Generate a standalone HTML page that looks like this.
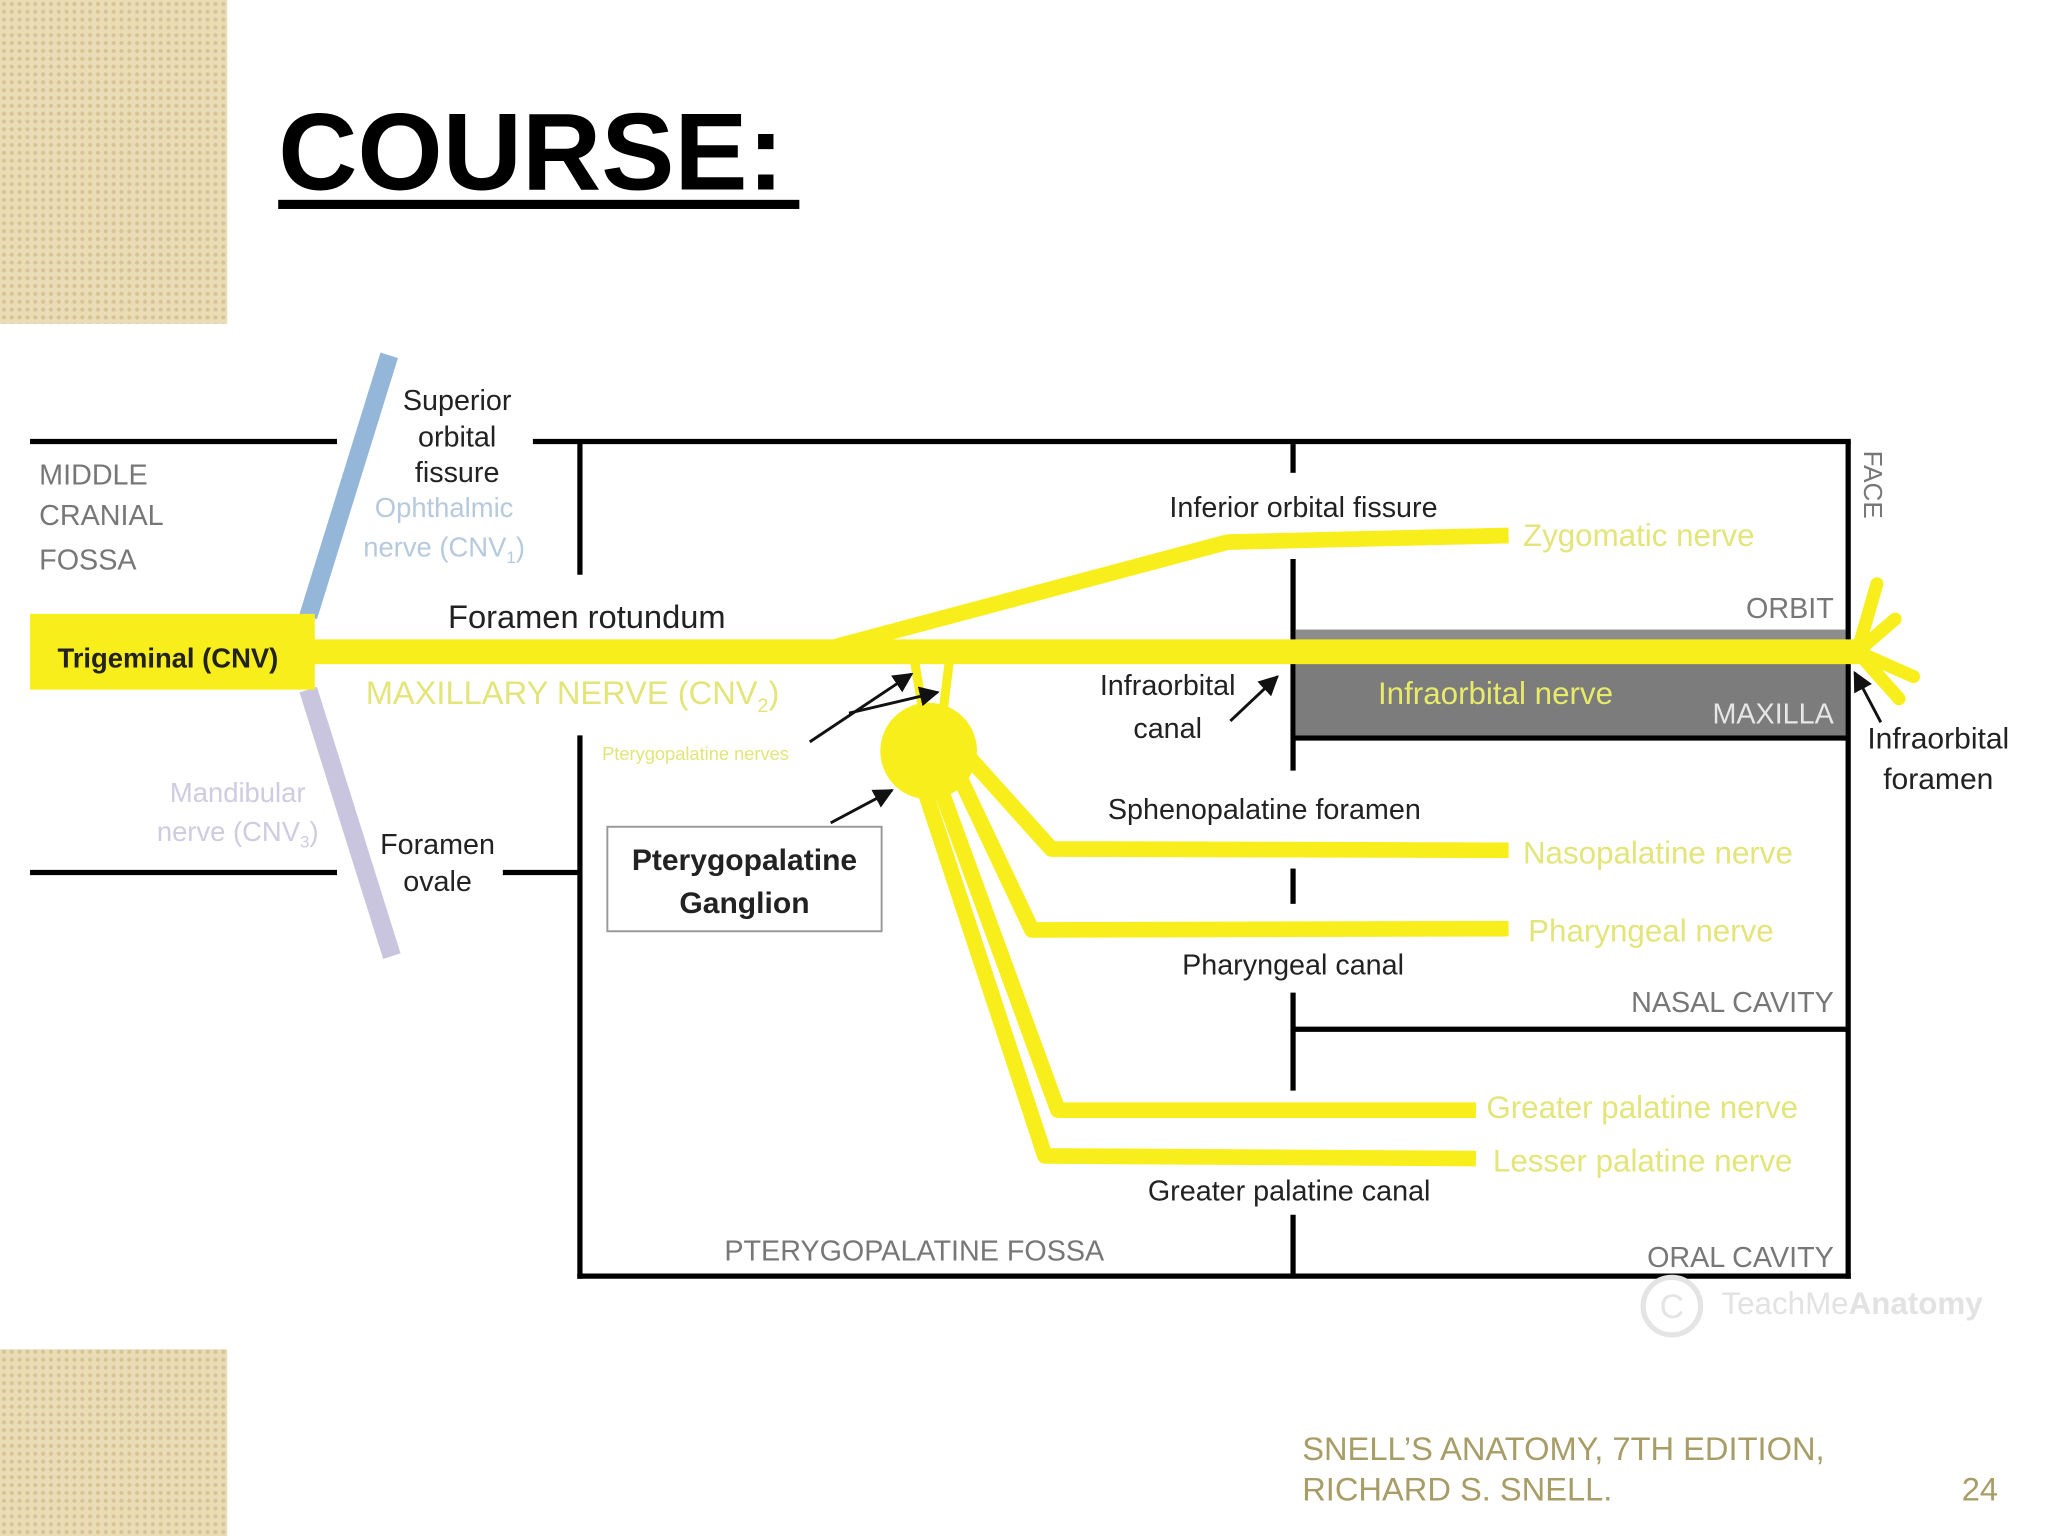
<!DOCTYPE html>
<html><head><meta charset="utf-8"><style>
html,body{margin:0;padding:0;background:#fff;}
svg{display:block;}
text{font-family:"Liberation Sans",sans-serif;}
</style></head><body>
<svg width="2048" height="1536" viewBox="0 0 1568 1176" xmlns="http://www.w3.org/2000/svg">
<defs>
<pattern id="pt" width="6" height="6" patternUnits="userSpaceOnUse">
<rect width="6" height="6" fill="#e9dcb6"/>
<circle cx="3" cy="3" r="1.6" fill="#d6c592"/>
</pattern>
<marker id="ah" viewBox="0 0 10 10" refX="9" refY="5" markerWidth="7" markerHeight="7" orient="auto"><path d="M0,0L10,5L0,10z" fill="#111"/></marker>
</defs>
<rect x="0" y="0" width="174" height="248" fill="url(#pt)"/>
<rect x="0" y="1033" width="174" height="143" fill="url(#pt)"/>

<text x="213" y="145" font-size="84" font-weight="bold" fill="#000">COURSE:</text>
<rect x="213" y="153" width="399" height="7" fill="#000"/>

<g stroke="#000" stroke-width="4" fill="none">
<line x1="23" y1="338" x2="258" y2="338"/>
<line x1="408" y1="338" x2="1417" y2="338"/>
<line x1="23" y1="668" x2="258" y2="668"/>
<line x1="385" y1="668" x2="444" y2="668"/>
<line x1="444" y1="338" x2="444" y2="440"/>
<line x1="444" y1="563" x2="444" y2="979"/>
<line x1="442" y1="977" x2="1417" y2="977"/>
<line x1="1415" y1="338" x2="1415" y2="979"/>
<line x1="990" y1="788" x2="1415" y2="788"/>
<line x1="990" y1="340" x2="990" y2="362"/>
<line x1="990" y1="428" x2="990" y2="490"/>
<line x1="990" y1="508" x2="990" y2="590"/>
<line x1="990" y1="665" x2="990" y2="692"/>
<line x1="990" y1="760" x2="990" y2="835"/>
<line x1="990" y1="930" x2="990" y2="977"/>
</g>
<rect x="992" y="482" width="421" height="10" fill="#8c8c8c"/>
<rect x="992" y="508" width="421" height="55" fill="#7c7c7c"/>
<line x1="990" y1="565" x2="1415" y2="565" stroke="#000" stroke-width="4"/>

<line x1="298" y1="272" x2="236" y2="472" stroke="#94b7d9" stroke-width="14"/>
<line x1="236" y1="528" x2="300" y2="732" stroke="#c9c5df" stroke-width="14"/>

<rect x="23" y="470" width="218" height="58" fill="#f7ee1b"/>
<g stroke="#f7ee1b" fill="none" stroke-linejoin="round">
<line x1="238" y1="499" x2="1424" y2="499" stroke-width="19"/>
<polyline points="640,495 940,415 1155,410" stroke-width="12"/>
<line x1="706" y1="540" x2="700" y2="505" stroke-width="7"/>
<line x1="722" y1="545" x2="727" y2="505" stroke-width="7"/>
<polyline points="742,580 805,650 1155,651" stroke-width="12"/>
<polyline points="730,585 790,712 1155,711" stroke-width="12"/>
<polyline points="715,590 810,850 1130,850" stroke-width="12"/>
<polyline points="703,590 800,885 1130,887" stroke-width="12"/>
<g stroke-width="10" stroke-linecap="round">
<line x1="1422" y1="499" x2="1437" y2="447"/>
<line x1="1422" y1="499" x2="1451" y2="474"/>
<line x1="1422" y1="499" x2="1465" y2="518"/>
<line x1="1422" y1="499" x2="1454" y2="535"/>
</g>
</g>
<circle cx="711" cy="575" r="37" fill="#f7ee1b"/>

<g stroke="#111" stroke-width="2.2" fill="none" marker-end="url(#ah)">
<polyline points="620,568 698,516"/>
<line x1="650" y1="546" x2="718" y2="530"/>
<line x1="636" y1="630" x2="683" y2="605"/>
<line x1="942" y1="552" x2="978" y2="518"/>
<line x1="1440" y1="553" x2="1420" y2="515"/>
</g>

<rect x="465" y="633" width="210" height="80" fill="#fff" stroke="#999" stroke-width="1.5"/>

<g font-size="22" fill="#222">
<text x="350" y="314" text-anchor="middle">Superior</text>
<text x="350" y="342" text-anchor="middle">orbital</text>
<text x="350" y="369" text-anchor="middle">fissure</text>
<text x="343" y="481" font-size="25">Foramen rotundum</text>
<text x="335" y="654" text-anchor="middle">Foramen</text>
<text x="335" y="682" text-anchor="middle">ovale</text>
<text x="998" y="396" text-anchor="middle">Inferior orbital fissure</text>
<text x="894" y="532" text-anchor="middle">Infraorbital</text>
<text x="894" y="565" text-anchor="middle">canal</text>
<text x="968" y="627" text-anchor="middle">Sphenopalatine foramen</text>
<text x="990" y="746" text-anchor="middle">Pharyngeal canal</text>
<text x="987" y="919" text-anchor="middle">Greater palatine canal</text>
<text x="1484" y="573" text-anchor="middle" font-size="23">Infraorbital</text>
<text x="1484" y="604" text-anchor="middle" font-size="23">foramen</text>
<text x="570" y="666" text-anchor="middle" font-weight="bold" font-size="23">Pterygopalatine</text>
<text x="570" y="699" text-anchor="middle" font-weight="bold" font-size="23">Ganglion</text>
<text x="44" y="511" font-weight="bold" font-size="21">Trigeminal (CNV)</text>
</g>
<g font-size="22" fill="#777">
<text x="30" y="371">MIDDLE</text>
<text x="30" y="402">CRANIAL</text>
<text x="30" y="436">FOSSA</text>
<text x="1404" y="473" text-anchor="end">ORBIT</text>
<text x="1404" y="775" text-anchor="end">NASAL CAVITY</text>
<text x="1404" y="970" text-anchor="end">ORAL CAVITY</text>
<text x="700" y="965" text-anchor="middle">PTERYGOPALATINE FOSSA</text>
<text x="1427" y="345" transform="rotate(90 1427 345)" font-size="20">FACE</text>
</g>
<text x="1404" y="554" text-anchor="end" font-size="22" fill="#e6e6e6">MAXILLA</text>
<g fill="#b7c9dc" font-size="21">
<text x="340" y="396" text-anchor="middle">Ophthalmic</text>
<text x="340" y="426" text-anchor="middle">nerve (CNV<tspan font-size="13" dy="5">1</tspan><tspan dy="-5">)</tspan></text>
</g>
<g fill="#cfcbe0" font-size="21">
<text x="182" y="614" text-anchor="middle">Mandibular</text>
<text x="182" y="644" text-anchor="middle">nerve (CNV<tspan font-size="13" dy="5">3</tspan><tspan dy="-5">)</tspan></text>
</g>
<g fill="#e3e57a" font-size="24">
<text x="280" y="539" font-size="25">MAXILLARY NERVE (CNV<tspan font-size="15" dy="6">2</tspan><tspan dy="-6">)</tspan></text>
<text x="461" y="582" font-size="14">Pterygopalatine nerves</text>
<text x="1166" y="418">Zygomatic nerve</text>
<text x="1055" y="539" fill="#e8ea6a">Infraorbital nerve</text>
<text x="1166" y="661">Nasopalatine nerve</text>
<text x="1170" y="721">Pharyngeal nerve</text>
<text x="1138" y="856">Greater palatine nerve</text>
<text x="1143" y="897">Lesser palatine nerve</text>
</g>
<circle cx="1280" cy="1000" r="22" fill="none" stroke="#e4e4e4" stroke-width="4"/>
<text x="1280" y="1009" text-anchor="middle" font-size="26" fill="#e4e4e4">C</text>
<text x="1318" y="1006" font-size="24" fill="#e2e2e2">TeachMe<tspan font-weight="bold">Anatomy</tspan></text>

<g fill="#a89d66" font-size="25">
<text x="997" y="1118">SNELL’S ANATOMY, 7TH EDITION,</text>
<text x="997" y="1149">RICHARD S. SNELL.</text>
<text x="1502" y="1149">24</text>
</g>
</svg>
</body></html>
